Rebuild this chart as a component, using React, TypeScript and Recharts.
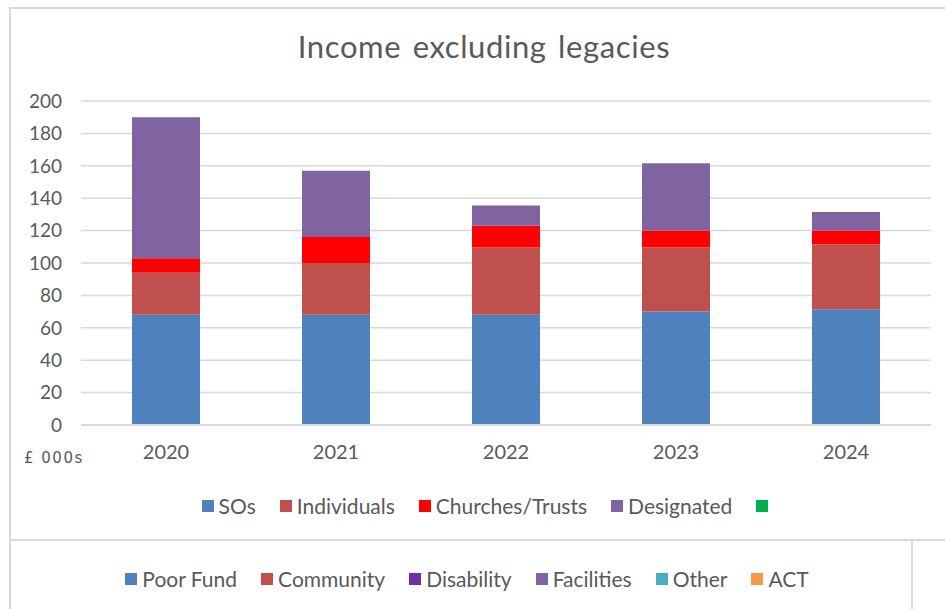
import { Bar, BarChart, CartesianGrid, XAxis, YAxis } from "recharts";

const years = ["2020", "2021", "2022", "2023", "2024"];
const sos = [68, 68, 68, 70, 71.5];
const individuals = [26, 32, 41.5, 39.5, 40];
const churchesTrusts = [9, 16, 13.5, 10.5, 8.5];
const designated = [87, 41, 12.5, 41.5, 11.5];
const unnamed = [0, 0, 0, 0, 0];
const yTicks = [0, 20, 40, 60, 80, 100, 120, 140, 160, 180, 200];

const series = [
  { key: "sos", name: "SOs", color: "#4f81bd", values: sos },
  { key: "individuals", name: "Individuals", color: "#c0504d", values: individuals },
  { key: "churches", name: "Churches/Trusts", color: "#ff0000", values: churchesTrusts },
  { key: "designated", name: "Designated", color: "#8064a2", values: designated },
  { key: "blank", name: "", color: "#00b050", values: unnamed },
];

// legend of the chart below, which is cut off in the picture
const lowerLegend = [
  { name: "Poor Fund", color: "#4f81bd" },
  { name: "Community", color: "#c0504d" },
  { name: "Disability", color: "#7030a0" },
  { name: "Facilities", color: "#8064a2" },
  { name: "Other", color: "#4bacc6" },
  { name: "ACT", color: "#f79646" },
];

const data = years.map((year, i) => {
  const row: Record<string, string | number> = { year };
  series.forEach((s) => (row[s.key] = s.values[i]));
  return row;
});

const FONT = "Lato, 'Open Sans', sans-serif";
const GREY = "#595959";
const LINE = "#d9d9d9";

const LegendRow = ({
  items,
  top,
  left,
  width,
}: {
  items: { name: string; color: string }[];
  top: number;
  left: number;
  width: number;
}) => (
  <div
    style={{
      position: "absolute",
      top,
      left,
      width,
      display: "flex",
      justifyContent: "center",
      gap: 24,
      fontFamily: FONT,
      fontSize: 21,
      color: GREY,
      lineHeight: "26px",
    }}
  >
    {items.map((it, i) => (
      <div key={i} style={{ display: "flex", alignItems: "center" }}>
        <span style={{ width: 12, height: 12, background: it.color, marginRight: 5 }} />
        {it.name && <span>{it.name}</span>}
      </div>
    ))}
  </div>
);

const App = () => {
  return (
    <div style={{ position: "absolute", left: 0, top: 0, width: 945, height: 609, background: "#fff", overflow: "hidden" }}>
      {/* frames */}
      <div style={{ position: "absolute", left: 9, top: 7, width: 936, height: 602, borderTop: `2px solid ${LINE}`, borderLeft: `2px solid ${LINE}` }} />
      <div style={{ position: "absolute", left: 9, top: 539, width: 936, height: 0, borderTop: `2px solid ${LINE}` }} />
      <div style={{ position: "absolute", left: 911, top: 540, width: 0, height: 69, borderLeft: `2px solid ${LINE}` }} />

      <div
        style={{
          position: "absolute",
          top: 27,
          left: 10,
          width: 948,
          textAlign: "center",
          fontFamily: FONT,
          fontSize: 31,
          letterSpacing: 0.6,
          wordSpacing: 3,
          color: GREY,
        }}
      >
        Income excluding legacies
      </div>

      <BarChart
        width={945}
        height={540}
        data={data}
        margin={{ top: 101, right: 14, bottom: 75, left: 10 }}
        style={{ position: "absolute", left: 0, top: 0, fontFamily: FONT }}
      >
        <CartesianGrid vertical={false} stroke={LINE} strokeWidth={1.5} />
        <XAxis
          dataKey="year"
          height={40}
          axisLine={{ stroke: LINE, strokeWidth: 2 }}
          tickLine={false}
          tickSize={0}
          tickMargin={20}
          tick={{ fill: GREY, fontSize: 20, fontFamily: FONT }}
        />
        <YAxis
          width={71}
          domain={[0, 200]}
          ticks={yTicks}
          axisLine={false}
          tickLine={false}
          tickSize={0}
          tickMargin={19}
          tick={{ fill: GREY, fontSize: 19, fontFamily: FONT }}
        />
        {series.map((s) => (
          <Bar key={s.key} dataKey={s.key} name={s.name} stackId="a" fill={s.color} barSize={68} isAnimationActive={false} />
        ))}
      </BarChart>

      <div
        style={{
          position: "absolute",
          left: 24,
          top: 449,
          fontFamily: "'DejaVu Sans', sans-serif",
          fontSize: 15,
          letterSpacing: 1.5,
          color: GREY,
        }}
      >
        £ 000s
      </div>

      <LegendRow items={series.map((s) => ({ name: s.name, color: s.color }))} top={493} left={20} width={935} />
      <LegendRow items={lowerLegend} top={566} left={10} width={914} />
    </div>
  );
};

export default App;
